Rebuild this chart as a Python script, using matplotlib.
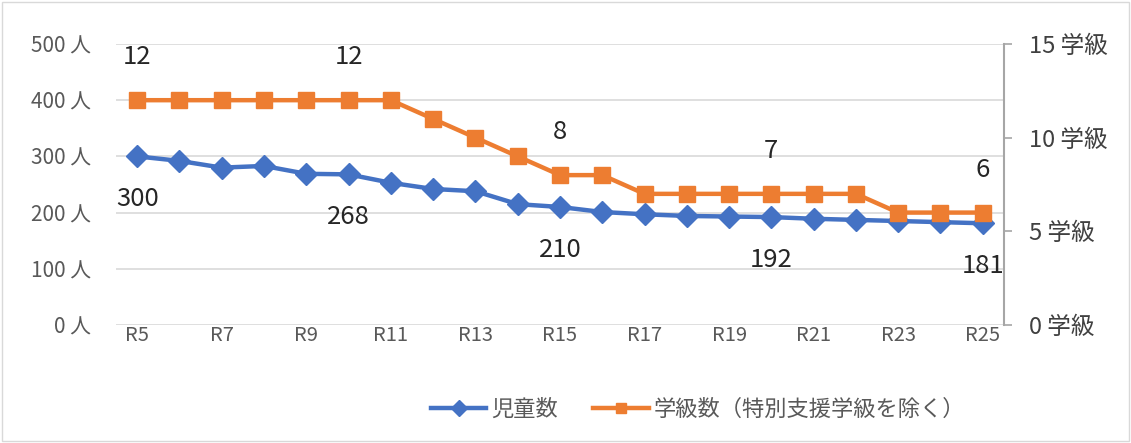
import matplotlib
matplotlib.use("Agg")
import matplotlib.pyplot as plt
from matplotlib.patches import Rectangle

plt.rcParams['font.family'] = ['Noto Sans CJK JP', 'DejaVu Sans']

years = [f"R{i}" for i in range(5, 26)]
children = [300, 292, 280, 283, 269, 268, 253, 242, 238, 215, 210, 201, 197, 194, 193, 192, 189, 187, 185, 183, 181]
classes = [12, 12, 12, 12, 12, 12, 12, 11, 10, 9, 8, 8, 7, 7, 7, 7, 7, 7, 6, 6, 6]
label_idx = [0, 5, 10, 15, 20]
left_ticks = [0, 100, 200, 300, 400, 500]
right_ticks = [0, 5, 10, 15]

blue = '#4472C4'
orange = '#ED7D31'

fig = plt.figure(figsize=(11.31, 4.43), dpi=100)
fig.patches.append(Rectangle((0.002, 0.004), 0.996, 0.992, transform=fig.transFigure,
                             fill=False, edgecolor='#D9D9D9', linewidth=1))
ax = fig.add_axes([0.1026, 0.2664, 0.785, 0.6343])
ax2 = ax.twinx()

x = list(range(len(years)))
l1, = ax.plot(x, children, color=blue, lw=3.2, marker='D', ms=11, label='児童数', zorder=3)
l2, = ax2.plot(x, classes, color=orange, lw=3.2, marker='s', ms=11, label='学級数（特別支援学級を除く）', zorder=3)

ax.set_ylim(0, 500)
ax2.set_ylim(0, 15)
ax.set_xlim(-0.5, len(years) - 0.5)
ax.set_yticks(left_ticks)
ax.set_yticklabels([f"{v} 人" for v in left_ticks], fontsize=15, color='#595959')
ax2.set_yticks(right_ticks)
ax2.set_yticklabels([f"{v} 学級" for v in right_ticks], fontsize=17, color='#404040')
ax.set_xticks(x[::2])
ax.set_xticklabels(years[::2], fontsize=14.5, color='#595959')
ax.tick_params(axis='x', length=0, pad=0)
ax.tick_params(axis='y', length=0, pad=18)
ax2.tick_params(axis='y', length=6, width=1.2, color='#A6A6A6', pad=12)
ax.grid(axis='y', color='#D9D9D9', lw=1.2)
ax.set_axisbelow(True)
for s in ['top', 'left', 'right', 'bottom']:
    ax.spines[s].set_visible(False)
for s in ['top', 'left', 'bottom']:
    ax2.spines[s].set_visible(False)
ax2.spines['right'].set_color('#A6A6A6')
ax2.spines['right'].set_linewidth(1.5)

for i in label_idx:
    ax.annotate(str(children[i]), (x[i], children[i]), xytext=(0, -31), textcoords='offset points',
                ha='center', va='center', fontsize=18.5, color='#262626')
    ax2.annotate(str(classes[i]), (x[i], classes[i]), xytext=(0, 31), textcoords='offset points',
                 ha='center', va='center', fontsize=18.5, color='#262626')

fig.legend(handles=[l1, l2], loc='center', bbox_to_anchor=(0.617, 0.075), ncol=2, frameon=False,
           fontsize=16, handlelength=2.5, columnspacing=1.6, handletextpad=0.2,
           labelcolor='#595959', markerscale=0.7)

fig.savefig('out.png', dpi=100)
